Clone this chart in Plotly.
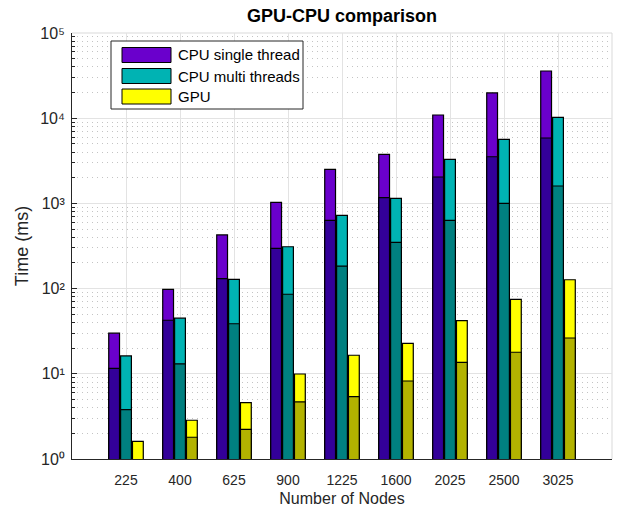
import plotly.graph_objects as go

# ---- data ----
nodes = ["225", "400", "625", "900", "1225", "1600", "2025", "2500", "3025"]
series_names = ["CPU single thread", "CPU multi threads", "GPU"]

cpu_single = [30, 98, 426, 1030, 2510, 3770, 10900, 19800, 35800]
cpu_multi = [16.2, 45, 128, 310, 725, 1148, 3290, 5650, 10240]
gpu = [1.61, 2.85, 4.6, 9.95, 16.5, 22.8, 42, 74.9, 127]

cpu_single_low = [11.6, 42.5, 131, 297, 633, 1167, 2040, 3530, 5860]
cpu_multi_low = [3.8, 13.1, 38.7, 85.8, 184, 349, 633, 1003, 1600]
gpu_low = [None, 1.8, 2.23, 4.67, 5.4, 8.23, 13.6, 17.9, 26.3]

y_tick_vals = [1, 10, 100, 1000, 10000, 100000]
y_tick_text = ["10⁰", "10¹", "10²", "10³", "10⁴", "10⁵"]

# ---- styling ----
light_colors = ["#6A00CC", "#00B3B3", "#FFFF00"]
dark_colors = ["#330099", "#008080", "#B3B300"]
offsets = [-0.32, -0.1, 0.12]
bar_w = 0.2
FONT = "Arial, Liberation Sans, Helvetica, sans-serif"
AX = "#262626"

fig = go.Figure()
tops = [cpu_single, cpu_multi, gpu]
lows = [cpu_single_low, cpu_multi_low, gpu_low]

for vals, name, col, off in zip(tops, series_names, light_colors, offsets):
    fig.add_trace(go.Bar(x=nodes, y=vals, name=name, offset=off, width=bar_w,
                         marker=dict(color=col, line=dict(color="black", width=1.2)),
                         showlegend=False))
for vals, name, col, off in zip(lows, series_names, dark_colors, offsets):
    fig.add_trace(go.Bar(x=nodes, y=vals, name=name + " (low)", offset=off, width=bar_w,
                         marker=dict(color=col, line=dict(color="black", width=1.2)),
                         showlegend=False))

minor_vals = [m * 10 ** k for k in range(5) for m in range(2, 10)]

fig.update_layout(
    width=619, height=513,
    margin=dict(l=72, r=7, t=33, b=54, autoexpand=False),
    paper_bgcolor="white", plot_bgcolor="white",
    barmode="overlay",
    font=dict(family=FONT, color=AX),
    title=dict(text="<b>GPU-CPU comparison</b>", x=0.5, xref="paper", xanchor="center",
               y=1 - 16 / 513, yref="container", yanchor="middle",
               font=dict(size=18, color="black", family=FONT)),
    xaxis=dict(type="category", range=[-1, 9], showgrid=True, gridcolor="#E3E3E3",
               gridwidth=1, showline=True, linecolor=AX, linewidth=1, ticks="",
               automargin=False, ticklabelstandoff=8,
               tickfont=dict(size=14, color=AX, family=FONT),
               title=dict(text="Number of Nodes", font=dict(size=16, color=AX, family=FONT),
                          standoff=6),
               zeroline=False),
    yaxis=dict(type="log", range=[0, 5], tickvals=y_tick_vals, ticktext=y_tick_text,
               ticks="inside", ticklen=5, tickcolor=AX, showline=True, linecolor=AX,
               linewidth=1, showgrid=True, gridcolor="#E3E3E3", gridwidth=1,
               automargin=False,
               tickfont=dict(size=16, color=AX, family=FONT),
               ticklabelstandoff=3,
               minor=dict(tickvals=minor_vals, ticks="inside", ticklen=3, tickcolor=AX,
                          showgrid=True, griddash="1px,4px", gridcolor="#C4C4C4", gridwidth=1),
               title=dict(text="Time (ms)", font=dict(size=18, color=AX, family=FONT),
                          standoff=6),
               zeroline=False),
)

# top / right light box edges
fig.add_shape(type="line", xref="paper", yref="paper", x0=0, x1=1, y0=1, y1=1,
              line=dict(color="#D9D9D9", width=1), layer="below")
fig.add_shape(type="line", xref="paper", yref="paper", x0=1, x1=1, y0=0, y1=1,
              line=dict(color="#D9D9D9", width=1), layer="below")

# legend box (custom, wide swatches like the reference)
PW, PH = 540.0, 426.0
def px_x(px):
    return (px - 72) / PW
def px_y(py):
    return (459 - py) / PH

fig.add_shape(type="rect", xref="paper", yref="paper",
              x0=px_x(111), x1=px_x(303), y0=px_y(109), y1=px_y(41),
              line=dict(color=AX, width=1), fillcolor="white", layer="above")
row_centers = [55, 76, 96.5]
for name, col, cy in zip(series_names, light_colors, row_centers):
    fig.add_shape(type="rect", xref="paper", yref="paper",
                  x0=px_x(122), x1=px_x(171), y0=px_y(cy + 7.5), y1=px_y(cy - 7.5),
                  line=dict(color="black", width=1), fillcolor=col, layer="above")
    fig.add_annotation(xref="paper", yref="paper", x=px_x(176), y=px_y(cy),
                       xanchor="left", yanchor="middle", text=name, showarrow=False,
                       font=dict(size=15, color="black", family=FONT))

fig.write_html("out.html", config={"displayModeBar": False},
               post_script="document.body.style.margin='0';document.body.style.padding='0';")
